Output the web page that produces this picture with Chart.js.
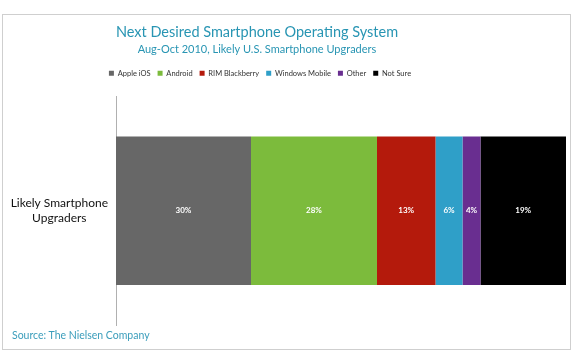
<!DOCTYPE html>
<html>
<head>
<meta charset="utf-8">
<script src="https://cdn.jsdelivr.net/npm/chart.js@4.4.1/dist/chart.umd.min.js"></script>
<style>
  html, body { margin: 0; padding: 0; background: #fff; }
  #wrap { position: relative; width: 577px; height: 351px; }
  #frame { position: absolute; left: 2px; top: 14px; width: 567px; height: 334px; border: 1px solid #cfcfcf; }
  #source { position: absolute; left: 12px; top: 329px; font: 10.5px Lato, sans-serif; color: #3a9dbb; }
  canvas { position: absolute; left: 0; top: 0; }
</style>
</head>
<body>
<div id="wrap">
  <div id="frame"></div>
  <canvas id="chart" width="577" height="351"></canvas>
  <div id="source">Source: The Nielsen Company</div>
</div>
<script>
  const categories = [['Likely Smartphone', 'Upgraders']];
  const systems = ['Apple iOS', 'Android', 'RIM Blackberry', 'Windows Mobile', 'Other', 'Not Sure'];
  const shares = [30, 28, 13, 6, 4, 19];
  const colors = ['#676767', '#7cbb3c', '#b41a0c', '#2f9fc8', '#692e90', '#000000'];

  const FONT = 'Lato, sans-serif';
  const TEAL = '#2895b3';
  const SUBTITLE = 'Aug-Oct 2010, Likely U.S. Smartphone Upgraders';

  // extra space under the legend
  const legendMargin = {
    id: 'legendMargin',
    beforeInit(chart) {
      const fitValue = chart.legend.fit;
      chart.legend.fit = function fit() {
        fitValue.bind(chart.legend)();
        this.height += 9.5;
      };
    },
    // titles and legend sit a bit left of the page centre
    afterLayout(chart) {
      chart.boxes.forEach(b => {
        let dx = 0;
        if (b === chart.legend) dx = 23;
        else if (b === chart.titleBlock || (b.options && b.options.text === SUBTITLE)) dx = 26;
        b.left -= dx;
        b.right -= dx;
      });
    }
  };

  // percentage labels inside each segment
  const segmentLabels = {
    id: 'segmentLabels',
    afterDatasetsDraw(chart) {
      const ctx = chart.ctx;
      ctx.save();
      ctx.fillStyle = '#ffffff';
      ctx.font = 'bold 8px ' + FONT;
      ctx.textAlign = 'center';
      ctx.textBaseline = 'middle';
      chart.data.datasets.forEach((ds, i) => {
        const meta = chart.getDatasetMeta(i);
        meta.data.forEach((bar, j) => {
          const p = bar.getCenterPoint();
          ctx.fillText(ds.data[j] + '%', p.x, p.y);
        });
      });
      ctx.restore();
    }
  };

  const datasets = systems.map((name, i) => ({
    label: name,
    data: [shares[i]],
    backgroundColor: colors[i],
    borderWidth: 0,
    barPercentage: 0.65,
    categoryPercentage: 1
  }));

  new Chart(document.getElementById('chart'), {
    type: 'bar',
    data: { labels: categories, datasets },
    options: {
      indexAxis: 'y',
      responsive: false,
      animation: false,
      layout: { padding: { top: 0, left: 0, right: 11, bottom: 26 } },
      scales: {
        x: { stacked: true, min: 0, max: 100, display: false },
        y: {
          stacked: true,
          grid: { display: false },
          border: { display: true, color: '#b0b0b0', width: 1 },
          ticks: {
            color: '#111',
            padding: 0,
            crossAlign: 'center',
            font: { family: FONT, size: 12 }
          },
          afterFit(scale) { scale.width = 116; }
        }
      },
      plugins: {
        title: {
          display: true,
          text: 'Next Desired Smartphone Operating System',
          color: TEAL,
          font: { family: FONT, size: 14.5, weight: 'normal' },
          padding: { top: 24, bottom: 0 }
        },
        subtitle: {
          display: true,
          text: SUBTITLE,
          color: TEAL,
          font: { family: FONT, size: 11 },
          padding: { top: 1.5, bottom: 6.5 }
        },
        legend: {
          display: true,
          labels: {
            boxWidth: 5,
            boxHeight: 5,
            padding: 7,
            color: '#333',
            font: { family: FONT, size: 7.5 }
          }
        },
        tooltip: { enabled: false }
      }
    },
    plugins: [legendMargin, segmentLabels]
  });
</script>
</body>
</html>
